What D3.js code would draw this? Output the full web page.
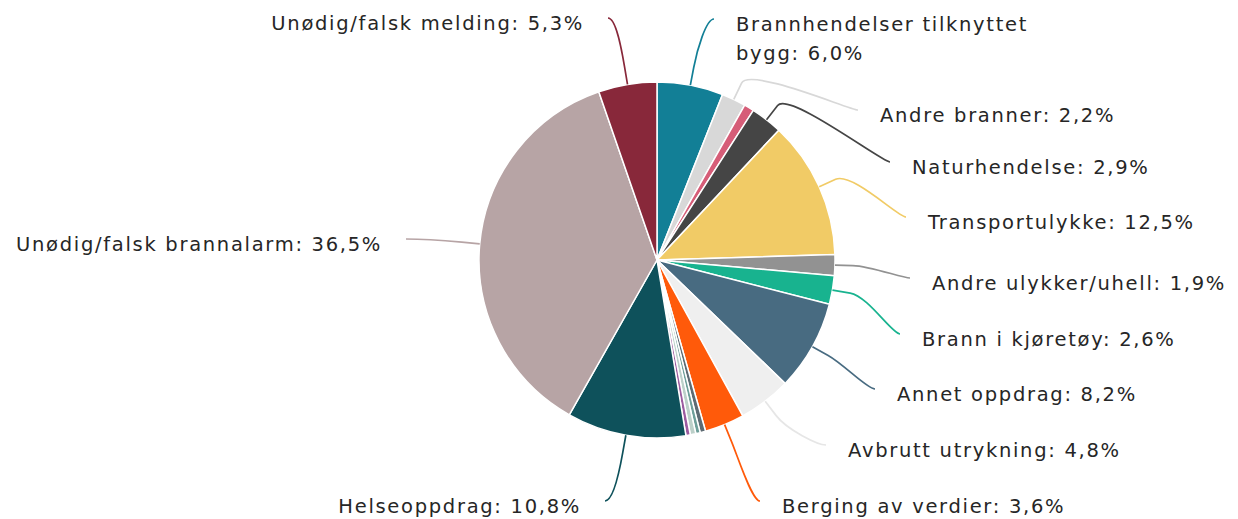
<!DOCTYPE html>
<html>
<head>
<meta charset="utf-8">
<script src="https://cdn.jsdelivr.net/npm/d3@7"></script>
<style>
  html, body { margin: 0; padding: 0; background: #fff; }
  svg { display: block; }
  .lbl { font-family: "DejaVu Sans", Verdana, sans-serif; font-size: 19.5px; letter-spacing: 1.7px; fill: #262626; }
</style>
</head>
<body>
<svg id="chart" width="1238" height="519"></svg>
<script>
// ---- Data (clockwise from 12 o'clock) ----
const categories = [
  "Brannhendelser tilknyttet bygg",
  "Andre branner",
  "Annen brann",
  "Naturhendelse",
  "Transportulykke",
  "Andre ulykker/uhell",
  "Brann i kjøretøy",
  "Annet oppdrag",
  "Avbrutt utrykning",
  "Berging av verdier",
  "Annet 1",
  "Annet 2",
  "Annet 3",
  "Annet 4",
  "Helseoppdrag",
  "Unødig/falsk brannalarm",
  "Unødig/falsk melding"
];
const values = [6.0, 2.2, 0.9, 2.9, 12.5, 1.9, 2.6, 8.2, 4.8, 3.6, 0.5, 0.4, 0.5, 0.4, 10.8, 36.5, 5.3];
const colors = [
  "#127f96", "#d8d8d8", "#d65d78", "#454545", "#f1cb66", "#929292", "#18b38f",
  "#486b81", "#efefef", "#ff5a0a", "#5d6b73", "#6d9e99", "#bcd0c9", "#9c5ba0",
  "#0e515b", "#b7a4a5", "#88283a"
];
// which slices carry a label (displayed label text lines)
const labelLines = {
  0: ["Brannhendelser tilknyttet", "bygg: 6,0%"],
  1: ["Andre branner: 2,2%"],
  3: ["Naturhendelse: 2,9%"],
  4: ["Transportulykke: 12,5%"],
  5: ["Andre ulykker/uhell: 1,9%"],
  6: ["Brann i kjøretøy: 2,6%"],
  7: ["Annet oppdrag: 8,2%"],
  8: ["Avbrutt utrykning: 4,8%"],
  9: ["Berging av verdier: 3,6%"],
  14: ["Helseoppdrag: 10,8%"],
  15: ["Unødig/falsk brannalarm: 36,5%"],
  16: ["Unødig/falsk melding: 5,3%"]
};

// ---- Layout (label placement, separate from data) ----
const labelLayout = {
  0:  { x: 736, y: 31, side: "right" },
  1:  { x: 880, y: 122, side: "right" },
  3:  { x: 912, y: 174, side: "right" },
  4:  { x: 928, y: 229, side: "right" },
  5:  { x: 932, y: 290, side: "right" },
  6:  { x: 922, y: 346, side: "right" },
  7:  { x: 897, y: 401, side: "right" },
  8:  { x: 848, y: 457, side: "right" },
  9:  { x: 782, y: 513, side: "right" },
  14: { x: 581, y: 513, side: "left" },
  15: { x: 382, y: 251, side: "left" },
  16: { x: 584, y: 30, side: "left" }
};
const connectorColors = { 1: "#d8d8d8", 8: "#e6e6e6" };

const cx = 657, cy = 260, R = 178;
const svg = d3.select("#chart");
const g = svg.append("g").attr("transform", `translate(${cx},${cy})`);

const pie = d3.pie().sort(null).value(d => d.v);
const data = values.map((v, i) => ({ v, i }));
const arcs = pie(data);
const arc = d3.arc().innerRadius(0).outerRadius(R);

g.selectAll("path.slice")
  .data(arcs)
  .join("path")
  .attr("class", "slice")
  .attr("d", arc)
  .attr("fill", d => colors[d.data.i])
  .attr("stroke", "#fff")
  .attr("stroke-width", 1.5)
  .attr("stroke-linejoin", "round");

// ---- connectors and labels ----
const pt = (a, r) => [cx + r * Math.sin(a), cy - r * Math.cos(a)];
const labelled = arcs.filter(d => labelLines[d.data.i]);

svg.selectAll("path.conn")
  .data(labelled)
  .join("path")
  .attr("class", "conn")
  .attr("fill", "none")
  .attr("stroke", d => connectorColors[d.data.i] || colors[d.data.i])
  .attr("stroke-width", 1.7)
  .attr("d", d => {
    const a = (d.startAngle + d.endAngle) / 2;
    const L = labelLayout[d.data.i];
    const P = pt(a, R);
    const B = pt(a, R + 18);
    const right = L.side === "right";
    const ex = right ? L.x - 22 : L.x + 24;
    const ey = L.y - 12;
    const c1x = right ? ex - 8 : ex + 8;
    const c2 = [2 * B[0] - P[0], 2 * B[1] - P[1]];
    return `M${ex},${ey} C${c1x},${ey} ${c2[0]},${c2[1]} ${B[0]},${B[1]} L${P[0]},${P[1]}`;
  });

const texts = svg.selectAll("text.lbl")
  .data(labelled)
  .join("text")
  .attr("class", "lbl")
  .attr("text-anchor", d => labelLayout[d.data.i].side === "right" ? "start" : "end")
  .attr("x", d => labelLayout[d.data.i].x)
  .attr("y", d => labelLayout[d.data.i].y);

texts.each(function(d) {
  const L = labelLayout[d.data.i];
  d3.select(this).selectAll("tspan")
    .data(labelLines[d.data.i])
    .join("tspan")
    .attr("x", L.x)
    .attr("dy", (s, k) => k === 0 ? 0 : 29)
    .text(s => s);
});
</script>
</body>
</html>
